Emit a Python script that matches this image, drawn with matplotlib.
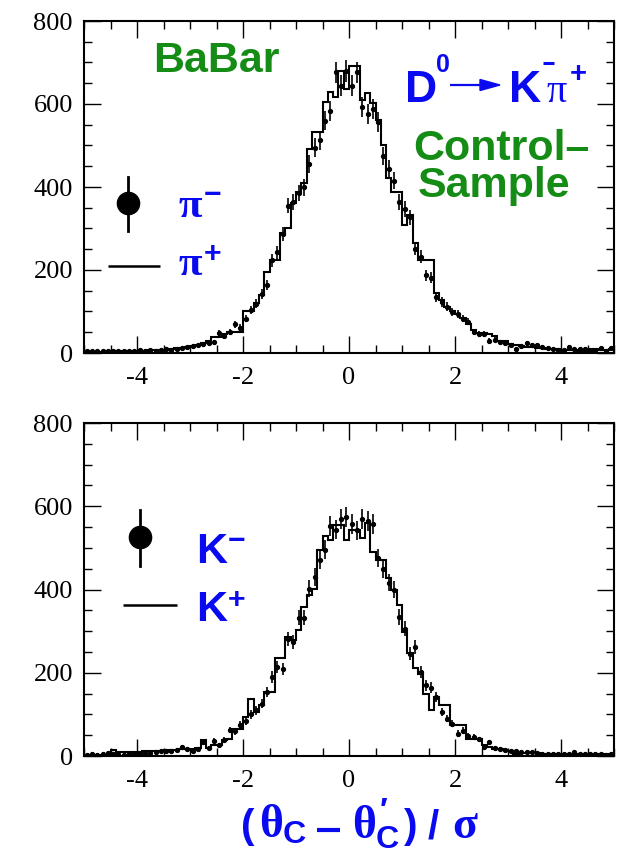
import numpy as np
import matplotlib
matplotlib.use("Agg")
import matplotlib.pyplot as plt
from matplotlib.lines import Line2D
from matplotlib.patches import Polygon
from matplotlib.ticker import MultipleLocator

# ---------------- data (bins of width 0.1 from -5 to 5) ----------------
bin_lo, bin_hi, n_bins = -5.0, 5.0, 100

pi_plus_hist = [3, 3, 3, 3, 4, 4, 4, 5, 5, 5,
                6, 6, 7, 7, 8, 8, 10, 11, 13, 15,
                18, 20, 24, 28, 39, 39, 45, 51, 51, 51,
                100, 100, 121, 140, 196, 224, 224, 289, 301, 361,
                389, 410, 491, 533, 533, 606, 630, 618, 680, 637,
                692, 692, 610, 626, 602, 561, 501, 421, 388, 388,
                308, 332, 265, 224, 224, 224, 144, 128, 111, 100,
                95, 85, 70, 55, 48, 48, 45, 42, 30, 28,
                22, 20, 18, 15, 14, 12, 11, 10, 10, 9,
                8, 7, 7, 6, 6, 6, 9, 8, 7, 9]

pi_minus_pts = [5, 5, 4, 4, 5, 4, 4, 4, 5, 5,
                7, 6, 8, 6, 7, 9, 8, 10, 12, 14,
                17, 20, 22, 23, 26, 48, 42, 50, 69, 61,
                83, 103, 119, 143, 164, 223, 243, 287, 355, 363,
                385, 399, 455, 495, 513, 560, 584, 676, 644, 680,
                644, 676, 592, 576, 588, 556, 475, 443, 415, 363,
                347, 327, 251, 232, 187, 181, 135, 123, 112, 99,
                95, 83, 75, 50, 46, 46, 30, 32, 26, 24,
                20, 9, 18, 23, 20, 19, 15, 11, 10, 7,
                8, 15, 10, 9, 10, 7, 6, 11, 5, 12]

k_plus_hist = [3, 3, 3, 3, 3, 14, 10, 10, 10, 10,
               10, 12, 12, 12, 12, 14, 14, 14, 18, 18,
               18, 20, 38, 20, 26, 26, 38, 40, 66, 66,
               94, 136, 106, 122, 154, 154, 235, 235, 287, 278,
               303, 359, 387, 402, 495, 528, 520, 555, 555, 519,
               543, 543, 524, 560, 491, 471, 471, 428, 400, 363,
               299, 247, 212, 198, 150, 110, 142, 122, 122, 74,
               74, 74, 42, 42, 40, 26, 22, 18, 16, 14,
               12, 5, 8, 8, 7, 7, 6, 6, 5, 5,
               5, 4, 4, 4, 4, 4, 4, 4, 4, 4]

k_minus_pts = [3, 6, 3, 4, 8, 4, 5, 3, 6, 5,
               6, 7, 8, 9, 11, 12, 11, 15, 22, 16,
               12, 16, 34, 20, 37, 27, 39, 62, 59, 75,
               83, 100, 110, 126, 154, 190, 214, 210, 282, 274,
               332, 332, 402, 430, 470, 496, 552, 544, 570, 574,
               557, 542, 570, 565, 558, 476, 450, 416, 400, 334,
               306, 246, 262, 202, 170, 164, 142, 106, 90, 78,
               54, 61, 48, 45, 40, 22, 33, 19, 17, 14,
               12, 12, 10, 10, 10, 7, 6, 6, 5, 6,
               5, 4, 10, 5, 6, 4, 6, 4, 3, 6]

x_ticks = [-4, -2, 0, 2, 4]
y_ticks = [0, 200, 400, 600, 800]

edges = np.linspace(bin_lo, bin_hi, n_bins + 1)
centers = 0.5 * (edges[:-1] + edges[1:])

BLUE = "#0a0af0"
GREEN = "#158c15"
W, H = 621, 855

plt.rcParams["axes.unicode_minus"] = False
plt.rcParams["mathtext.fontset"] = "custom"
plt.rcParams["mathtext.rm"] = "Liberation Sans:bold"
plt.rcParams["mathtext.it"] = "Liberation Serif:bold"
plt.rcParams["mathtext.bf"] = "Liberation Sans:bold"
plt.rcParams["mathtext.sf"] = "Liberation Sans:bold"

fig = plt.figure(figsize=(W / 100, H / 100), dpi=100)
fig.patch.set_facecolor("white")


def fx(px):
    return px / W


def fy(py):
    return 1 - py / H


ax1 = fig.add_axes([fx(84), fy(353), (614 - 84) / W, (353 - 21) / H])
ax2 = fig.add_axes([fx(84), fy(756), (614 - 84) / W, (756 - 423) / H])


def style(ax, hist, pts):
    ax.stairs(hist, edges, color="black", lw=1.5)
    p = np.asarray(pts, dtype=float)
    ax.errorbar(centers, p, yerr=np.sqrt(p), xerr=0.025, fmt="o", ms=2.8,
                color="black", elinewidth=1.2, capsize=0)
    ax.set_xlim(bin_lo, bin_hi)
    ax.set_ylim(0, 800)
    ax.set_xticks(x_ticks)
    ax.set_yticks(y_ticks)
    ax.xaxis.set_minor_locator(MultipleLocator(0.5))
    ax.yaxis.set_minor_locator(MultipleLocator(50))
    ax.tick_params(which="both", direction="in", top=True, right=True,
                   width=1.0, colors="black")
    ax.tick_params(which="major", length=12)
    ax.tick_params(which="minor", length=6)
    ax.tick_params(axis="x", pad=10)
    ax.tick_params(axis="y", pad=8)
    for lab in ax.get_xticklabels() + ax.get_yticklabels():
        lab.set_fontfamily("Liberation Serif")
        lab.set_fontsize(19)
    for s in ax.spines.values():
        s.set_linewidth(1.5)


style(ax1, pi_plus_hist, pi_minus_pts)
style(ax2, k_plus_hist, k_minus_pts)


def ftxt(x, y, s, size, color, family="Liberation Sans", weight="bold", **kw):
    fig.text(fx(x), fy(y), s, fontsize=size, color=color,
             fontfamily=family, fontweight=weight, **kw)


def hline(xa, xb, y, lw, color):
    fig.add_artist(Line2D([fx(xa), fx(xb)], [fy(y), fy(y)], color=color, lw=lw,
                          solid_capstyle="butt", transform=fig.transFigure))


# green labels
ftxt(216, 72, "BaBar", 31, GREEN, ha="center", va="baseline")
ftxt(501, 160, "Control\u2013", 31, GREEN, ha="center", va="baseline")
ftxt(494, 197, "Sample", 31, GREEN, ha="center", va="baseline")

# decay label D0 -> K- pi+ built piece by piece
ftxt(405, 102, "D", 32, BLUE, ha="left", va="baseline")
ftxt(436, 72, "0", 18, BLUE, ha="left", va="baseline")
hline(450, 483, 85, 1.6, BLUE)
fig.add_artist(Polygon([[fx(480), fy(79.5)], [fx(500), fy(85)], [fx(480), fy(90.5)]],
                       closed=True, color=BLUE, transform=fig.transFigure))
ftxt(509, 102, "K", 32, BLUE, ha="left", va="baseline")
hline(543, 554, 63, 2.2, BLUE)
ftxt(546, 102, "\u03c0", 29, BLUE, family="Liberation Serif", weight="normal",
     ha="left", va="baseline")
ftxt(570, 82, "+", 21, BLUE, ha="left", va="baseline")

# legend texts
ftxt(178, 218, r"$\pi^{\mathbf{-}}$", 31, BLUE, ha="left", va="baseline")
ftxt(178, 276, r"$\pi^{\mathbf{+}}$", 31, BLUE, ha="left", va="baseline")
ftxt(196, 563, r"$\mathbf{K}^{\mathbf{-}}$", 31, BLUE, ha="left", va="baseline")
ftxt(196, 622, r"$\mathbf{K}^{\mathbf{+}}$", 31, BLUE, ha="left", va="baseline")

# x-axis label: (theta_C - theta'_C) / sigma
ftxt(241, 838, "(", 29, BLUE, ha="left", va="baseline")
ftxt(259, 838, r"$\theta_{\mathbf{C}}$", 33, BLUE, ha="left", va="baseline")
hline(317, 340, 830, 3.0, BLUE)
ftxt(352, 838, r"$\theta^{\mathbf{\prime}}_{\mathbf{C}}$", 33, BLUE,
     ha="left", va="baseline")
ftxt(404, 838, ")", 29, BLUE, ha="left", va="baseline")
ftxt(428, 838, "/", 29, BLUE, ha="left", va="baseline")
ftxt(452, 838, r"$\sigma$", 33, BLUE, ha="left", va="baseline")

# legend symbols
for (mx, my, y0, y1) in [(128, 203, 177, 231), (140, 537, 510, 566)]:
    fig.add_artist(Line2D([fx(mx), fx(mx)], [fy(y0), fy(y1)], color="black",
                          lw=2, transform=fig.transFigure))
    fig.add_artist(Line2D([fx(mx)], [fy(my)], marker="o", ms=16, color="black",
                          transform=fig.transFigure))
for (xa, xb, ly) in [(108, 160, 266), (123, 177, 605)]:
    hline(xa, xb, ly, 1.8, "black")

fig.savefig("out.png", dpi=100, facecolor="white")
